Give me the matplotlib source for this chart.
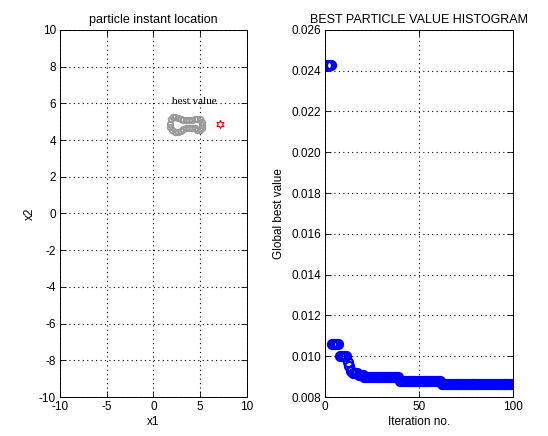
import matplotlib.pyplot as plt
import numpy as np

plt.rcParams['font.family'] = ['Liberation Sans', 'DejaVu Sans']
plt.rcParams['font.size'] = 8.5
plt.rcParams['axes.unicode_minus'] = False

# particle positions (outline of the swarm cloud) and best position
px = [1.75, 1.85, 2.05, 2.3, 2.6, 2.9, 3.2, 3.5, 3.8, 4.1, 4.4, 4.7, 4.95, 5.15, 5.2,
      5.15, 4.95, 4.7, 4.4, 4.1, 3.8, 3.5, 3.2, 2.9, 2.6, 2.3, 2.0, 1.8]
py = [4.9, 5.12, 5.24, 5.27, 5.22, 5.14, 5.1, 5.1, 5.1, 5.1, 5.13, 5.17, 5.14, 5.0, 4.82,
      4.65, 4.55, 4.57, 4.63, 4.67, 4.67, 4.65, 4.58, 4.5, 4.45, 4.45, 4.52, 4.7]
best_x = [7.1]
best_y = [4.9]

# global best value per iteration
iters = list(range(1, 101))
best_val = ([0.0243] * 3 + [0.0106] * 4 + [0.0100] * 4 +
            [0.0097, 0.0095, 0.0093, 0.0092, 0.0092, 0.0092, 0.0091, 0.0091, 0.0091] +
            [0.0090] * 19 + [0.0088] * 22 + [0.00865] * 39)

fig = plt.figure(figsize=(5.48, 4.36), dpi=100)

ax1 = fig.add_axes([0.1095, 0.0894, 0.341, 0.842])
ax1.plot(px, py, 'o', ms=4, mfc='none', mec='#999999', mew=1.3)
ax1.plot(best_x, best_y, marker=(6, 1, 0), ms=6, mfc='none', mec='r', mew=0.8, ls='none')
ax1.text(4.4, 6.1, 'best value', family='Liberation Serif', fontsize=8, ha='center', va='center')
ax1.set_xlim(-10, 10)
ax1.set_ylim(-10, 10)
ax1.set_xticks(range(-10, 11, 5))
ax1.set_yticks(range(-10, 11, 2))
ax1.set_xlabel('x1', labelpad=2)
ax1.set_ylabel('x2', labelpad=2)
ax1.set_title('particle instant location', fontsize=9, pad=5)

ax2 = fig.add_axes([0.593, 0.0894, 0.343, 0.842])
ax2.plot(iters, best_val, 'o', ms=6.5, mfc='none', mec='b', mew=1.6, ls='none')
ax2.set_xlim(0, 100)
ax2.set_ylim(0.008, 0.026)
ax2.set_xticks([0, 50, 100])
ax2.set_yticks(np.round(np.arange(0.008, 0.0261, 0.002), 3))
ax2.set_yticklabels(['%.3f' % v for v in np.arange(0.008, 0.0261, 0.002)])
ax2.set_xlabel('Iteration no.', labelpad=2)
ax2.set_ylabel('Global best value', labelpad=4)
ax2.set_title('BEST PARTICLE VALUE HISTOGRAM', fontsize=9, pad=5)

for ax in (ax1, ax2):
    ax.grid(True, ls=(0, (1, 3)), color='k', lw=0.8)
    ax.tick_params(direction='in', top=True, right=True, length=4, width=0.6, pad=3)
    for s in ax.spines.values():
        s.set_linewidth(0.7)

fig.savefig('out.png', dpi=100)
